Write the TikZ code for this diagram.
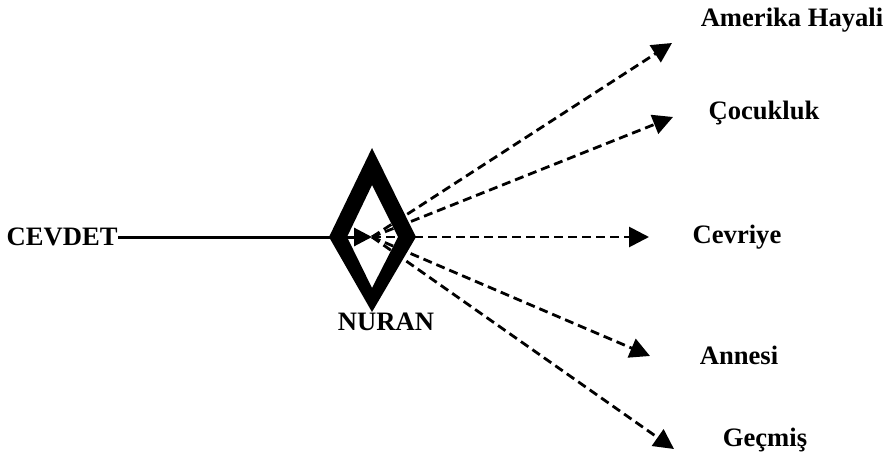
\documentclass[tikz,border=0pt]{standalone}
\usepackage{fontspec}
\setmainfont{Liberation Serif}
\usetikzlibrary{arrows.meta}

\begin{document}
\begin{tikzpicture}[
      x=0.5pt, y=-0.5pt,
      every node/.style={font=\bfseries\fontsize{13.3}{15}\selectfont, inner sep=0pt},
      link/.style={dash pattern=on 4.5pt off 2.5pt, line width=1.4pt, -{Triangle[length=10pt, width=10pt]}},
      main/.style={line width=1.5pt, -{Triangle[length=9pt, width=9pt]}}
    ]
    \useasboundingbox (0,0) rectangle (888,460);
    % NURAN: thick diamond
    \fill[even odd rule] (372,148) -- (416,237) -- (372,312) -- (329,237) -- cycle
                         (372,185) -- (398,237) -- (372,288) -- (347,237) -- cycle;
    \coordinate (hub) at (372,237);
    \node (nuran) at (386,322) {NURAN};
    \node[anchor=east] (cevdet) at (118,237) {CEVDET};
    % themes on the right
    \node (amerika)  at (792,20)  {Amerika Hayali};
    \node (cocukluk) at (764,113) {Çocukluk};
    \node (cevriye)  at (737,237) {Cevriye};
    \node (annesi)   at (739,355) {Annesi};
    \node (gecmis)   at (765,440) {Geçmiş};
    % arrow tips
    \coordinate (t1) at (672,43);
    \coordinate (t2) at (673,117);
    \coordinate (t3) at (649,237);
    \coordinate (t4) at (650,356);
    \coordinate (t5) at (674,449);
    \draw[main] (cevdet.east) -- (hub);
    \foreach \t in {t1,t2,t3,t4,t5}
      \draw[link] (hub) -- (\t);
\end{tikzpicture}
\end{document}
